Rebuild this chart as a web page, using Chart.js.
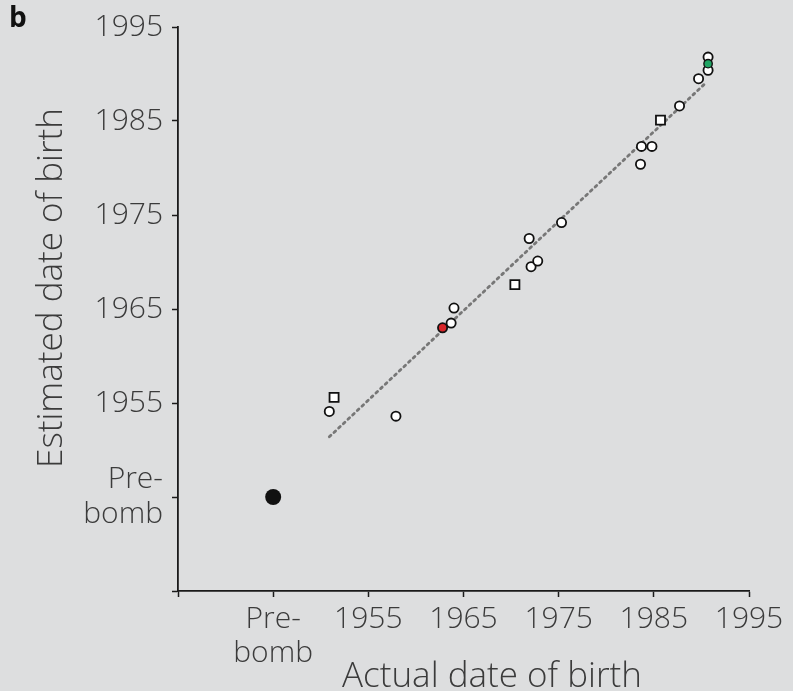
<!DOCTYPE html>
<html><head><meta charset="utf-8">
<script src="https://cdn.jsdelivr.net/npm/chart.js@4.4.1/dist/chart.umd.min.js"></script>
<style>html,body{margin:0;padding:0;background:#dddedf;}#wrap{width:793px;height:691px;}</style>
</head><body><div id="wrap"><canvas id="c" width="793" height="691"></canvas></div>
<script>
// Data (years; 1945 stands for "Pre-bomb")
const tickValues = [1935, 1945, 1955, 1965, 1975, 1985, 1995];
const tickLabels = ['', ['Pre-', 'bomb'], '1955', '1965', '1975', '1985', '1995'];
const circleActual    = [1950.9, 1957.9, 1963.7, 1964.0, 1971.9, 1972.1, 1972.8, 1975.3, 1983.7, 1984.8, 1983.6, 1987.7, 1989.7, 1990.7, 1990.7];
const circleEstimated = [1954.1, 1953.6, 1963.5, 1965.1, 1972.5, 1969.5, 1970.1, 1974.2, 1982.3, 1982.3, 1980.4, 1986.6, 1989.5, 1991.8, 1990.4];
const squareActual    = [1951.4, 1970.4, 1985.7];
const squareEstimated = [1955.6, 1967.6, 1985.1];
const redActual = [1962.8], redEstimated = [1963.0];
const greenActual = [1990.7], greenEstimated = [1991.1];
const preBombActual = [1945], preBombEstimated = [1945];
const fitActual = [1950.9, 1990.4];
const fitEstimated = [1951.4, 1989.0];

const pts = (xs, ys) => xs.map((x, i) => ({x, y: ys[i]}));
const FONT = '"Open Sans", "Noto Sans", sans-serif';
const TXT = '#3b3b3b';

const titles = {
  id: 'titles',
  afterDraw(chart) {
    const ctx = chart.ctx;
    ctx.save();
    ctx.fillStyle = TXT;
    ctx.font = '300 35px ' + FONT;
    ctx.textAlign = 'center';
    ctx.textBaseline = 'alphabetic';
    ctx.fillText('Actual date of birth', 492, 687);
    ctx.translate(62, 288);
    ctx.rotate(-Math.PI / 2);
    ctx.fillText('Estimated date of birth', 0, 0);
    ctx.restore();
    ctx.save();
    ctx.fillStyle = '#111';
    ctx.font = 'bold 28px ' + FONT;
    ctx.textAlign = 'left';
    ctx.textBaseline = 'alphabetic';
    ctx.fillText('b', 9, 27);
    ctx.restore();
  }
};

const axisCommon = (pos) => ({
  type: 'linear', min: 1935, max: 1995,
  afterBuildTicks: s => { s.ticks = tickValues.map(v => ({value: v})); },
  grid: {display: true, drawOnChartArea: false, drawTicks: true, tickLength: 6, tickWidth: 1.5, tickColor: '#1a1a1a'},
  border: {display: true, color: '#1a1a1a', width: 1.8},
  ticks: {
    color: TXT, font: {family: FONT, size: 30, weight: 300, lineHeight: 1.15},
    padding: pos === 'x' ? 5 : 9, autoSkip: false, maxRotation: 0,
    callback: (v) => { const i = tickValues.indexOf(v); return i >= 0 ? tickLabels[i] : ''; }
  }
});

const xAxis = axisCommon('x');
xAxis.position = 'bottom';
xAxis.afterFit = s => { s.height = 100; };
const yAxis = axisCommon('y');
yAxis.position = 'left';
yAxis.afterFit = s => { s.width = 178; };

new Chart(document.getElementById('c'), {
  type: 'scatter',
  data: {
    datasets: [
      {type: 'line', data: pts(fitActual, fitEstimated), borderColor: '#777', borderWidth: 2.8,
       borderDash: [2.2, 4.2], borderCapStyle: 'round', pointRadius: 0, fill: false, order: 10},
      {data: pts(circleActual, circleEstimated), pointStyle: 'circle', pointRadius: 4.6,
       backgroundColor: '#ffffff', borderColor: '#111', borderWidth: 1.8, order: 3},
      {data: pts(squareActual, squareEstimated), pointStyle: 'rect', pointRadius: 6.4,
       backgroundColor: '#ffffff', borderColor: '#111', borderWidth: 1.8, order: 3},
      {data: pts(redActual, redEstimated), pointStyle: 'circle', pointRadius: 4.6,
       backgroundColor: '#d8262a', borderColor: '#111', borderWidth: 1.8, order: 2},
      {data: pts(greenActual, greenEstimated), pointStyle: 'circle', pointRadius: 4.2,
       backgroundColor: '#1fa463', borderColor: '#111', borderWidth: 1.4, order: 1},
      {data: pts(preBombActual, preBombEstimated), pointStyle: 'circle', pointRadius: 8,
       backgroundColor: '#111', borderColor: '#111', borderWidth: 0, order: 1}
    ]
  },
  options: {
    responsive: false, animation: false, devicePixelRatio: 1,
    layout: {padding: {left: 0, top: 27, right: 44, bottom: 0}},
    plugins: {legend: {display: false}, tooltip: {enabled: false}},
    scales: {x: xAxis, y: yAxis}
  },
  plugins: [titles]
});
</script></body></html>
